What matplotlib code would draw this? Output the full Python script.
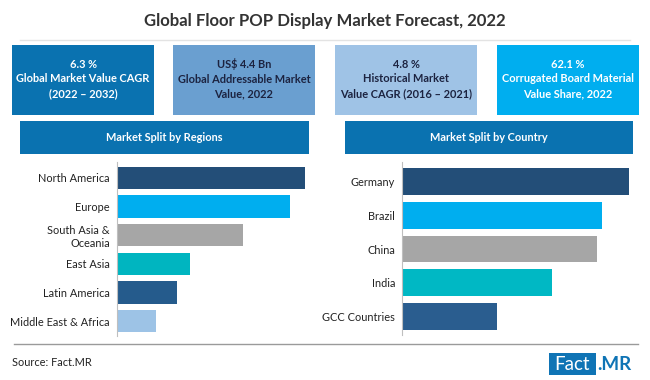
import numpy as np
import matplotlib
matplotlib.use('Agg')
import matplotlib.pyplot as plt
from matplotlib.patches import Rectangle

plt.rcParams['font.family'] = ['Lato', 'DejaVu Sans']

# Data (relative bar lengths, longest = 100)

regions       = ['North America', 'Europe', 'South Asia &\nOceania',
                 'East Asia', 'Latin America', 'Middle East & Africa']
region_values = [100, 92, 67, 39, 32, 21]
region_colors = ['#234e78', '#00aeef', '#a6a6a6', '#00b5c0', '#255b8c', '#9dc3e6']

countries      = ['Germany', 'Brazil', 'China', 'India', 'GCC Countries']
country_values = [100, 88, 86, 66, 42]
country_colors = ['#234e78', '#00aeef', '#a6a6a6', '#00b8c4', '#2a5d8f']

kpi_texts  = ['6.3 %\nGlobal Market Value CAGR\n(2022 – 2032)',
              'US$ 4.4 Bn\nGlobal Addressable Market\nValue, 2022',
              '4.8 %\nHistorical Market\nValue CAGR (2016 – 2021)',
              '62.1 %\nCorrugated Board Material\nValue Share, 2022']
kpi_colors = ['#0a72b0', '#6a9fd0', '#9fc3e6', '#00aeef']
kpi_fg     = ['white', '#1c2340', '#1c2340', 'white']

W, H = 650, 380
fig = plt.figure(figsize=(W / 100, H / 100), dpi=100)
fig.patch.set_facecolor('white')

bg = fig.add_axes([0, 0, 1, 1])
bg.set_xlim(0, W); bg.set_ylim(H, 0); bg.axis('off')


def px_axes(x0, y0, x1, y1):
    return fig.add_axes([x0 / W, 1 - y1 / H, (x1 - x0) / W, (y1 - y0) / H])


def box(x0, y0, x1, y1, color):
    bg.add_patch(Rectangle((x0, y0), x1 - x0, y1 - y0, color=color, lw=0))


# title
bg.text(W / 2, 21, 'Global Floor POP Display Market Forecast, 2022',
        ha='center', va='center', fontsize=12.1, fontweight='bold', color='#333333')
bg.plot([20, 630], [40, 40], color='#e3e3e3', lw=1)

# KPI boxes
kpi_x = [12, 173, 335, 497]
for x, txt, c, fg in zip(kpi_x, kpi_texts, kpi_colors, kpi_fg):
    box(x, 45, x + 142, 115, c)
    bg.text(x + 71, 79, txt, ha='center', va='center', fontsize=7.9,
            fontweight='bold', color=fg, linespacing=1.4)

# section banners
for (x0, x1), lbl in zip([(20, 309), (345, 633)],
                         ['Market Split by Regions', 'Market Split by Country']):
    box(x0, 121, x1, 154, '#0a72b0')
    bg.text((x0 + x1) / 2, 137.5, lbl, ha='center', va='center',
            fontsize=7.9, fontweight='bold', color='white')


def hbar(ax, labels, values, colors, height, ylim, xmax):
    ypos = np.arange(len(labels))
    ax.barh(ypos, values, color=colors, height=height)
    ax.set_yticks(ypos)
    ax.set_yticklabels(labels, fontsize=7.9, color='#222222')
    ax.set_ylim(*ylim)
    ax.set_xlim(0, xmax)
    ax.set_xticks([])
    for s in ['top', 'right', 'bottom']:
        ax.spines[s].set_visible(False)
    ax.spines['left'].set_color('#bfbfbf')
    ax.tick_params(axis='y', length=0, pad=5)
    for t in ax.get_yticklabels():
        t.set_multialignment('right')
    ax.patch.set_alpha(0)


ax1 = px_axes(117, 162, 310, 335.6)
hbar(ax1, regions, region_values, region_colors, 0.78, (5.5, -0.55), 100 * 193 / 188)

ax2 = px_axes(402, 162, 632, 335)
hbar(ax2, countries, country_values, country_colors, 0.8, (4.55, -0.58), 100 * 230 / 227)

# footer
bg.plot([14, 638], [344, 344], color='#9a9a9a', lw=1)
bg.text(12, 362, 'Source: Fact.MR', ha='left', va='center', fontsize=7.9, color='#222222')
box(549, 353, 596, 375, '#0f74b5')
bg.text(572.5, 364, 'Fact', ha='center', va='center', fontsize=13.5, color='white')
bg.text(597, 364, '.MR', ha='left', va='center', fontsize=13.5,
        fontweight='bold', color='#0f74b5')

fig.savefig('out.png', dpi=100, facecolor='white')
